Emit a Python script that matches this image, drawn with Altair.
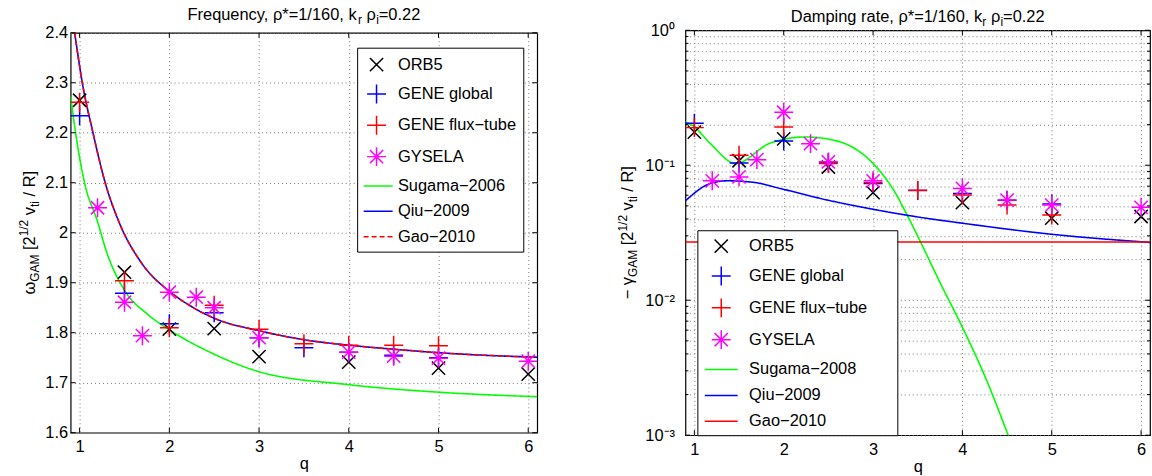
import altair as alt
import pandas as pd

FONT = "Liberation Sans"
BASE = 16.5      # main text size
SMALL = 12.0     # sub/superscript size
GRID = "#7a7a7a"
BLANK = "\u2800"  # blank glyph that survives text trimming (used to widen legend box)

# ---------------- Frequency panel: omega_GAM vs q ----------------
FREQ_ORB5_Q = [1, 1.5, 2, 2.5, 3, 4, 5, 6]
FREQ_ORB5 = [2.265, 1.921, 1.807, 1.808, 1.752, 1.741, 1.729, 1.717]
FREQ_GENE_GLOBAL_Q = [1, 1.5, 2, 2.5, 3, 3.5, 4, 4.5, 5]
FREQ_GENE_GLOBAL = [2.234, 1.879, 1.818, 1.840, 1.790, 1.770, 1.761, 1.755, 1.750]
FREQ_GENE_FLUX_Q = [1, 1.5, 2, 2.5, 3, 3.5, 4, 4.5, 5]
FREQ_GENE_FLUX = [2.261, 1.904, 1.810, 1.855, 1.807, 1.778, 1.775, 1.775, 1.774]
FREQ_GYSELA_Q = [1.2, 1.5, 1.7, 2, 2.3, 2.5, 3, 4, 4.5, 5, 6]
FREQ_GYSELA = [2.050, 1.861, 1.794, 1.881, 1.871, 1.850, 1.790, 1.761, 1.753, 1.749, 1.743]

FREQ_SUGAMA_Q = [0.9, 0.955, 1.055, 1.2, 1.3, 1.5, 1.75, 2.0, 2.5, 3.0, 4.0, 5.0, 6.1]
FREQ_SUGAMA = [2.273, 2.2, 2.1, 2.022, 1.962, 1.885, 1.838, 1.806, 1.757, 1.722, 1.696, 1.681, 1.672]
FREQ_QIU_Q = [0.945, 1.03, 1.149, 1.285, 1.433, 1.7, 2.0, 2.25, 2.5, 3.0, 3.5, 4.0, 4.5, 5.0, 5.5, 6.1]
FREQ_QIU = [2.4, 2.3, 2.2, 2.1, 2.024, 1.937, 1.883, 1.852, 1.829, 1.804, 1.786, 1.775, 1.767, 1.760, 1.755, 1.751]
FREQ_GAO_Q = [0.945, 1.03, 1.149, 1.285, 1.433, 1.7, 2.0, 2.25, 2.5, 3.0, 3.5, 4.0, 4.5, 5.0, 5.5, 6.1]
FREQ_GAO = [2.4, 2.3, 2.2, 2.1, 2.024, 1.937, 1.883, 1.852, 1.829, 1.804, 1.786, 1.775, 1.767, 1.760, 1.755, 1.751]

# ---------------- Damping panel: -gamma_GAM vs q ----------------
DAMP_ORB5_Q = [1, 1.5, 2, 2.5, 3, 4, 5, 6]
DAMP_ORB5 = [0.176, 0.108, 0.157, 0.097, 0.0626, 0.0528, 0.0405, 0.0417]
DAMP_GENE_GLOBAL_Q = [1, 1.5, 2, 2.5, 3, 3.5, 4, 4.5, 5]
DAMP_GENE_GLOBAL = [0.205, 0.104, 0.151, 0.105, 0.0733, 0.065, 0.0618, 0.055, 0.0516]
DAMP_GENE_FLUX_Q = [1, 1.5, 2, 2.5, 3, 3.5, 4, 4.5, 5]
DAMP_GENE_FLUX = [0.190, 0.1185, 0.192, 0.103, 0.0745, 0.0654, 0.0601, 0.0507, 0.0428]
DAMP_GYSELA_Q = [1.2, 1.5, 1.7, 2, 2.3, 2.5, 3, 4, 4.5, 5, 6]
DAMP_GYSELA = [0.0767, 0.082, 0.110, 0.247, 0.1445, 0.106, 0.0767, 0.0673, 0.0552, 0.0507, 0.0488]

DAMP_SUGAMA_Q = [0.9, 0.98, 1.18, 1.46, 1.85, 2.24, 2.6, 3.0, 3.23, 3.39, 3.52, 3.75, 4.0, 4.25, 4.5, 4.6]
DAMP_SUGAMA = [0.209, 0.197, 0.1445, 0.103, 0.146, 0.162, 0.151, 0.103, 0.0655, 0.0417, 0.028,
               0.0135, 0.0063, 0.00275, 0.00105, 0.0007]
DAMP_QIU_Q = [0.9, 1.18, 1.37, 1.67, 1.96, 2.49, 3.0, 3.52, 4.0, 5.0, 6.1]
DAMP_QIU = [0.0545, 0.0733, 0.0767, 0.0746, 0.0673, 0.0552, 0.0472, 0.0412, 0.0372, 0.0308, 0.0268]
DAMP_GAO_Q = [0.9, 6.1]
DAMP_GAO = [0.027, 0.027]

# ---------------- labels ----------------
SERIES_POINTS = ["ORB5", "GENE global", "GENE flux\u2212tube", "GYSELA"]
FREQ_CURVES = ["Sugama\u22122006", "Qiu\u22122009", "Gao\u22122010"]
DAMP_CURVES = ["Sugama\u22122008", "Qiu\u22122009", "Gao\u22122010"]
Q_TICKS = [1, 2, 3, 4, 5, 6]
FREQ_TICKS = [1.6, 1.7, 1.8, 1.9, 2.0, 2.1, 2.2, 2.3, 2.4]
DAMP_MAJOR = [0.001, 0.01, 0.1, 1.0]
DAMP_MINOR = [m * d for d in (0.001, 0.01, 0.1) for m in range(2, 10)]

# text runs: (text, level) with level 0 normal, -1 subscript, +1 superscript
FREQ_TITLE = [("Frequency, \u03c1*=1/160, k", 0), ("r", -1), (" \u03c1", 0), ("i", -1), ("=0.22", 0)]
DAMP_TITLE = [("Damping rate, \u03c1*=1/160, k", 0), ("r", -1), (" \u03c1", 0), ("i", -1), ("=0.22", 0)]
FREQ_YLABEL = [("\u03c9", 0), ("GAM", -1), (" [2", 0), ("1/2", 1), (" v", 0), ("ti", -1), (" / R]", 0)]
DAMP_YLABEL = [("\u2212 \u03b3", 0), ("GAM", -1), (" [2", 0), ("1/2", 1), (" v", 0), ("ti", -1), (" / R]", 0)]

# marker outlines (unit box) used for points and legend
P_X = "M-0.7,-0.7L0.7,0.7M-0.7,0.7L0.7,-0.7"
P_PLUS = "M-1,0L1,0M0,-1L0,1"
P_STAR = "M-1,0L1,0M0,-1L0,1M-0.7,-0.7L0.7,0.7M-0.7,0.7L0.7,-0.7"

# Arial/Liberation Sans advance widths (em)
ADV = {" ": .278, ",": .278, ".": .278, "*": .389, "=": .584, "/": .278,
       "[": .278, "]": .278, "\u2212": .584, "\u03c1": .58, "\u03c9": .78, "\u03b3": .5,
       "A": .667, "D": .722, "F": .611, "G": .778, "M": .833, "R": .722,
       "a": .556, "c": .5, "e": .556, "g": .556, "i": .222, "k": .5, "m": .833, "n": .556,
       "p": .556, "q": .556, "r": .333, "t": .278, "u": .556, "v": .5, "y": .5}


def text_len(s, size):
    return sum(ADV.get(c, 0.556) for c in s) * size


def rich_text(runs, cx, cy, vertical, sub_shift=4.0, sup_shift=6.5):
    """Lay out mixed-size text runs centred on (cx, cy).

    Leading/trailing blanks are turned into position offsets, since the
    renderer trims whitespace from each text item."""
    sizes = [BASE if lvl == 0 else SMALL for _, lvl in runs]
    widths = [text_len(t, s) for (t, _), s in zip(runs, sizes)]
    pos = -sum(widths) / 2
    layers = []
    for (t, lvl), s, w in zip(runs, sizes, widths):
        lead = text_len(t[: len(t) - len(t.lstrip(" "))], s)
        shift = sub_shift if lvl < 0 else (-sup_shift if lvl > 0 else 0.0)
        p = pos + lead
        if vertical:
            x, y, ang = cx + shift, cy - p, 270
        else:
            x, y, ang = cx + p, cy + shift, 0
        layers.append(
            alt.Chart(pd.DataFrame({"t": [t.strip(" ")]}))
            .mark_text(align="left", baseline="alphabetic", font=FONT, fontSize=s,
                       angle=ang, color="black")
            .encode(text="t:N", x=alt.value(x), y=alt.value(y))
        )
        pos += w
    return layers


def long_table(entries):
    rows = []
    for name, qs, vs in entries:
        for q, v in zip(qs, vs):
            rows.append({"series": name, "q": q, "v": v})
    return pd.DataFrame(rows)


def panel(W, H, points, curves, curve_names, dashes, line_path, y_scale, y_axis,
          y_major, y_minor, legend, title, title_y, ylabel, ylabel_x):
    order = SERIES_POINTS + curve_names
    colors = ["black", "blue", "red", "magenta", "#00ff00", "blue", "red"]
    shapes = [P_X, P_PLUS, P_PLUS, P_STAR, line_path, line_path, line_path]
    cs = alt.Scale(domain=order, range=colors)
    ss = alt.Scale(domain=order, range=shapes)
    ds = alt.Scale(domain=order, range=[[1, 0]] * 6 + [dashes])

    xs = alt.Scale(domain=[0.9, 6.1], nice=False, zero=False)
    xa = alt.Axis(values=Q_TICKS, format="d", grid=True, gridDash=[1, 3], gridColor=GRID,
                  gridOpacity=1, ticks=False, domain=False, labelPadding=6, title="q",
                  titlePadding=1)
    X = alt.X("q:Q", scale=xs, axis=xa)
    Y = alt.Y("v:Q", scale=y_scale, axis=y_axis)

    layers = []
    for name in curve_names:
        layers.append(
            alt.Chart(curves).transform_filter(alt.datum.series == name)
            .mark_line(strokeWidth=1.6, clip=True, interpolate="monotone")
            .encode(x=X, y=Y,
                    color=alt.Color("series:N", scale=cs, legend=legend),
                    strokeDash=alt.StrokeDash("series:N", scale=ds, legend=legend))
        )
    for name in SERIES_POINTS:
        layers.append(
            alt.Chart(points).transform_filter(alt.datum.series == name)
            .mark_point(filled=False, size=361, strokeWidth=1.5, opacity=1, clip=True)
            .encode(x=X, y=Y,
                    color=alt.Color("series:N", scale=cs, legend=legend),
                    shape=alt.Shape("series:N", scale=ss, legend=legend))
        )

    # inward tick marks on all four sides of the box
    qt = pd.DataFrame({"q": Q_TICKS})
    for y0, y1 in ((H, H - 5), (0, 5)):
        layers.append(alt.Chart(qt).mark_rule(color="black", strokeWidth=1)
                      .encode(x=X, y=alt.value(y0), y2=alt.value(y1)))
    for vals, ln in ((y_major, 5), (y_minor, 3)):
        if not vals:
            continue
        vt = pd.DataFrame({"v": vals})
        for x0, x1 in ((0, ln), (W - ln, W)):
            layers.append(alt.Chart(vt).mark_rule(color="black", strokeWidth=1)
                          .encode(y=Y, x=alt.value(x0), x2=alt.value(x1)))

    layers += rich_text(title, W / 2, title_y, vertical=False)
    layers += rich_text(ylabel, ylabel_x, H / 2, vertical=True)
    return alt.layer(*layers).properties(width=W, height=H)


def make_legend(x, y, pad, sym_off, lab_off, row_pad, extra):
    opts = dict(title=None, orient="none", legendX=x, legendY=y, padding=pad,
                symbolOffset=sym_off, labelOffset=lab_off, rowPadding=row_pad,
                strokeColor="black", fillColor="white", cornerRadius=0,
                symbolSize=361, symbolStrokeWidth=1.5, labelFont=FONT,
                labelFontSize=BASE, labelColor="black", labelLimit=400)
    if extra:
        opts["labelExpr"] = "datum.label + '" + BLANK * extra + "'"
    return alt.Legend(**opts)


freq_points = long_table([
    (SERIES_POINTS[0], FREQ_ORB5_Q, FREQ_ORB5),
    (SERIES_POINTS[1], FREQ_GENE_GLOBAL_Q, FREQ_GENE_GLOBAL),
    (SERIES_POINTS[2], FREQ_GENE_FLUX_Q, FREQ_GENE_FLUX),
    (SERIES_POINTS[3], FREQ_GYSELA_Q, FREQ_GYSELA),
])
freq_curves = long_table([
    (FREQ_CURVES[0], FREQ_SUGAMA_Q, FREQ_SUGAMA),
    (FREQ_CURVES[1], FREQ_QIU_Q, FREQ_QIU),
    (FREQ_CURVES[2], FREQ_GAO_Q, FREQ_GAO),
])
damp_points = long_table([
    (SERIES_POINTS[0], DAMP_ORB5_Q, DAMP_ORB5),
    (SERIES_POINTS[1], DAMP_GENE_GLOBAL_Q, DAMP_GENE_GLOBAL),
    (SERIES_POINTS[2], DAMP_GENE_FLUX_Q, DAMP_GENE_FLUX),
    (SERIES_POINTS[3], DAMP_GYSELA_Q, DAMP_GYSELA),
])
damp_curves = long_table([
    (DAMP_CURVES[0], DAMP_SUGAMA_Q, DAMP_SUGAMA),
    (DAMP_CURVES[1], DAMP_QIU_Q, DAMP_QIU),
    (DAMP_CURVES[2], DAMP_GAO_Q, DAMP_GAO),
])

W1, H1 = 469, 402
W2, H2 = 467, 407

freq_axis = alt.Axis(values=FREQ_TICKS, format=".1~f", grid=True, gridDash=[1, 3],
                     gridColor=GRID, gridOpacity=1, ticks=False, domain=False,
                     labelPadding=3, title=None)
left = panel(
    W1, H1, freq_points, freq_curves, FREQ_CURVES, [5, 3], "M-1.36,0L1.7,0",
    alt.Scale(domain=[1.6, 2.4], nice=False, zero=False), freq_axis,
    FREQ_TICKS, [],
    make_legend(288, 15, 6.5, 2.5, 11, 6.5, 0),
    FREQ_TITLE, -13, FREQ_YLABEL, -36,
)

decade_label = (
    "abs(log(datum.value)/LN10 - round(log(datum.value)/LN10)) > 0.001 ? '' : "
    "round(log(datum.value)/LN10) == 0 ? '10\u2070' : "
    "round(log(datum.value)/LN10) == -1 ? '10\u207b\u00b9' : "
    "round(log(datum.value)/LN10) == -2 ? '10\u207b\u00b2' : '10\u207b\u00b3'"
)
damp_axis = alt.Axis(values=DAMP_MAJOR + DAMP_MINOR, labelExpr=decade_label, grid=True,
                     gridDash=[1, 3], gridColor=GRID, gridOpacity=1, ticks=False,
                     domain=False, labelPadding=11, labelOverlap=False, title=None)
right = panel(
    W2, H2, damp_points, damp_curves, DAMP_CURVES, [1, 0], "M-1.74,0L1.74,0",
    alt.Scale(type="log", domain=[0.001, 1], nice=False), damp_axis,
    DAMP_MAJOR, DAMP_MINOR,
    make_legend(12, 201, 5.5, 8, 17.5, 7, 2),
    DAMP_TITLE, -8, DAMP_YLABEL, -52.5,
)

chart = (
    alt.hconcat(left, right, spacing=77, center=True)
    .resolve_scale(color="independent", shape="independent", strokeDash="independent")
    .properties(padding={"left": 17, "top": 5, "right": 0, "bottom": 0})
    .configure_view(stroke="black", strokeWidth=1.2)
    .configure_axis(labelFont=FONT, labelFontSize=BASE, labelColor="black",
                    titleFont=FONT, titleFontSize=BASE, titleFontWeight="normal",
                    titleColor="black")
)

chart.save("out.html", embed_options={"renderer": "svg", "actions": False})
